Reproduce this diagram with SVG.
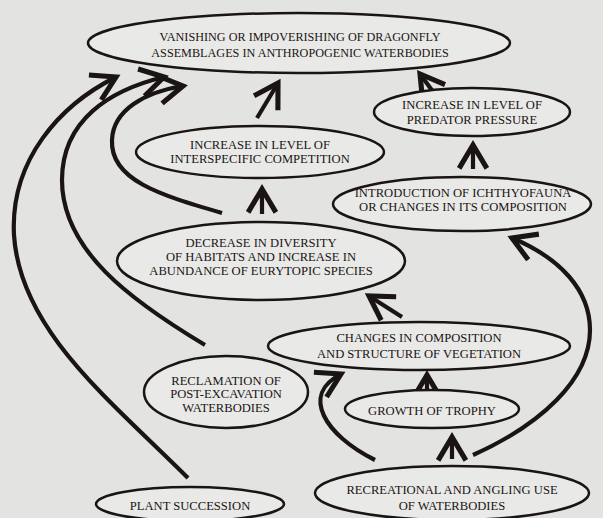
<svg xmlns="http://www.w3.org/2000/svg" width="603" height="518" viewBox="0 0 603 518">
<defs>
<style>
.bg{fill:#e3e3e1}
.n ellipse{fill:#e9e9e8;stroke:#1a1412;stroke-width:2.5}
.n text{font-family:"Liberation Serif","Times New Roman",serif;font-size:12.6px;fill:#1a1412;text-anchor:middle}
#n-vanishing text{font-size:12.2px}
.c path{fill:none;stroke:#1a1412;stroke-width:4.2;stroke-linecap:butt}
</style>
<marker id="ah" markerUnits="userSpaceOnUse" markerWidth="40" markerHeight="40" refX="0" refY="0" viewBox="-26 -18 32 36" orient="auto">
<path d="M-21,-12.5 L0,0 L-21,12.5" fill="none" stroke="#1a1412" stroke-width="4.6" stroke-linejoin="miter" stroke-miterlimit="6"/>
</marker>
</defs>
<rect class="bg" x="0" y="0" width="603" height="518"/>
<g id="connectors" class="c">
<path d="M188,478 C110,400 20,330 14,235 C10,160 60,105 116,77" marker-end="url(#ah)"/>
<path d="M205,345 C130,300 62,250 62,180 C62,120 110,90 164,77" marker-end="url(#ah)"/>
<path d="M222,213 C160,195 110,180 112,140 C113,110 145,92 183,86" marker-end="url(#ah)"/>
<path d="M257,118 L278,83" marker-end="url(#ah)"/>
<path d="M434,93 L420,74" marker-end="url(#ah)"/>
<path d="M473,169 L473,145" marker-end="url(#ah)"/>
<path d="M262,214 L262,189" marker-end="url(#ah)"/>
<path d="M402,317 L369,296" marker-end="url(#ah)"/>
<path d="M473,455 C540,425 590,380 590,330 C590,290 560,258 512,238" marker-end="url(#ah)"/>
<path d="M375,460 C325,435 300,395 341,374" marker-end="url(#ah)"/>
<path d="M452,459 L452,437" marker-end="url(#ah)"/>
<path d="M427,398 L427,375" marker-end="url(#ah)"/>
</g>
<g id="n-vanishing" class="n">
<ellipse cx="299" cy="43" rx="211" ry="30"/>
<text x="300" y="41">VANISHING OR IMPOVERISHING OF DRAGONFLY</text>
<text x="300" y="57">ASSEMBLAGES IN  ANTHROPOGENIC WATERBODIES</text>
</g>
<g id="n-predator" class="n">
<ellipse cx="472" cy="112" rx="98" ry="24"/>
<text x="472" y="109">INCREASE IN LEVEL OF</text>
<text x="472" y="124">PREDATOR PRESSURE</text>
</g>
<g id="n-competition" class="n">
<ellipse cx="260" cy="152" rx="124" ry="26"/>
<text x="260" y="149">INCREASE IN LEVEL OF</text>
<text x="260" y="163">INTERSPECIFIC COMPETITION</text>
</g>
<g id="n-ichthyofauna" class="n">
<ellipse cx="462" cy="204" rx="129" ry="27"/>
<text x="463" y="197">INTRODUCTION OF ICHTHYOFAUNA</text>
<text x="463" y="211">OR CHANGES IN ITS COMPOSITION</text>
</g>
<g id="n-diversity" class="n">
<ellipse cx="261" cy="261" rx="144" ry="39"/>
<text x="261" y="247">DECREASE IN DIVERSITY</text>
<text x="261" y="261">OF HABITATS AND INCREASE IN</text>
<text x="261" y="275">ABUNDANCE OF EURYTOPIC SPECIES</text>
</g>
<g id="n-vegetation" class="n">
<ellipse cx="419" cy="346" rx="151" ry="24"/>
<text x="419" y="342">CHANGES IN COMPOSITION</text>
<text x="419" y="358">AND STRUCTURE OF VEGETATION</text>
</g>
<g id="n-reclamation" class="n">
<ellipse cx="226" cy="392" rx="82" ry="36"/>
<text x="226" y="385">RECLAMATION OF</text>
<text x="226" y="398">POST-EXCAVATION</text>
<text x="226" y="412">WATERBODIES</text>
</g>
<g id="n-trophy" class="n">
<ellipse cx="432" cy="409" rx="87" ry="19"/>
<text x="432" y="415">GROWTH OF TROPHY</text>
</g>
<g id="n-recreational" class="n">
<ellipse cx="452" cy="493" rx="137" ry="27"/>
<text x="452" y="494">RECREATIONAL AND ANGLING USE</text>
<text x="452" y="510">OF WATERBODIES</text>
</g>
<g id="n-plant" class="n">
<ellipse cx="190" cy="504" rx="94" ry="17"/>
<text x="190" y="510">PLANT  SUCCESSION</text>
</g>
</svg>
